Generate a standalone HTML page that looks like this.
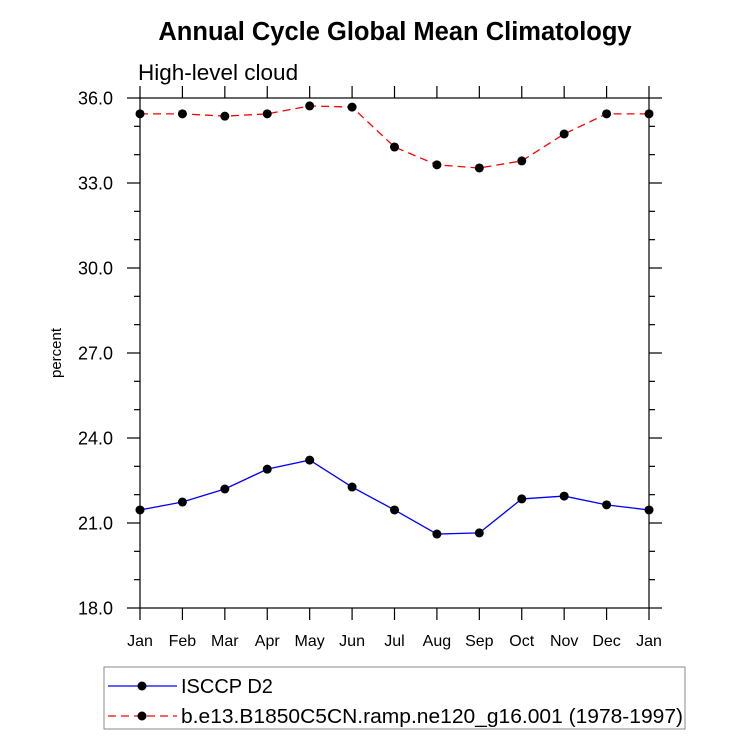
<!DOCTYPE html>
<html><head><meta charset="utf-8"><style>
body{margin:0;background:#fff;}
svg{display:block;font-family:"Liberation Sans",Arial,sans-serif;}
</style></head><body>
<svg id="chart" width="733" height="741">
<text x="395" y="40" text-anchor="middle" font-size="25.5" font-weight="bold">Annual Cycle Global Mean Climatology</text>
<text x="138" y="80" font-size="22.5">High-level cloud</text>
<text transform="translate(61,353) rotate(-90)" text-anchor="middle" font-size="15">percent</text>
<g id="axes"></g>
<g id="series"></g>
<rect x="104" y="667" width="581" height="62" fill="none" stroke="#888" stroke-width="1"/>
<g>
<line x1="108" y1="686" x2="177" y2="686" stroke="#00f" stroke-width="1.2"/>
<circle cx="142" cy="686" r="4.5" fill="#000"/>
<text x="181" y="693" font-size="20">ISCCP D2</text>
</g>
<g>
<line x1="108" y1="716" x2="177" y2="716" stroke="#f00" stroke-width="1.2" stroke-dasharray="8,5"/>
<circle cx="142" cy="716" r="4.5" fill="#000"/>
<text x="181" y="723" font-size="20" textLength="502" lengthAdjust="spacingAndGlyphs">b.e13.B1850C5CN.ramp.ne120_g16.001 (1978-1997)</text>
</g>
</svg>
<script>
const months = ["Jan","Feb","Mar","Apr","May","Jun","Jul","Aug","Sep","Oct","Nov","Dec","Jan"];
const isccpValues = [21.46,21.74,22.2,22.9,23.22,22.27,21.46,20.61,20.65,21.85,21.95,21.64,21.46];
const modelValues = [35.44,35.44,35.36,35.44,35.72,35.68,34.27,33.64,33.53,33.78,34.73,35.44,35.44];
const yTicks = [18,21,24,27,30,33,36];
const yTickLabels = ["18.0","21.0","24.0","27.0","30.0","33.0","36.0"];

const NS="http://www.w3.org/2000/svg";
const L=140,R=649,T=98,B=608,yMin=18,yMax=36;
const xs=i=>L+(R-L)*i/(months.length-1);
const ys=v=>B-(v-yMin)/(yMax-yMin)*(B-T);
function mk(tag,attrs,parent){const e=document.createElementNS(NS,tag);for(const k in attrs)e.setAttribute(k,attrs[k]);parent.appendChild(e);return e;}
const ax=document.getElementById('axes');
const frame=mk('rect',{x:L,y:T,width:R-L,height:B-T,fill:'none',stroke:'#000','stroke-width':1.2},ax);


months.forEach((m,i)=>{
  const x=xs(i);
  mk('line',{x1:x,y1:B,x2:x,y2:B+12,stroke:'#000','stroke-width':1.2},ax);
  mk('line',{x1:x,y1:T,x2:x,y2:T-12,stroke:'#000','stroke-width':1.2},ax);
  const t=mk('text',{x:x,y:B+38,'text-anchor':'middle','font-size':16},ax);
  t.textContent=m;
  
  
});
for(let v=yMin;v<=yMax;v+=1){
  const y=ys(v);const major=(v-yMin)%3===0;const len=major?13:6;
  mk('line',{x1:L,y1:y,x2:L-len,y2:y,stroke:'#000','stroke-width':1.2},ax);
  mk('line',{x1:R,y1:y,x2:R+len,y2:y,stroke:'#000','stroke-width':1.2},ax);
}
yTicks.forEach((v,i)=>{
  const t=mk('text',{x:L-27,y:ys(v)+6.5,'text-anchor':'end','font-size':18},ax);
  t.textContent=yTickLabels[i];
  
  
});
const sg=document.getElementById('series');
function drawSeries(vals,color,dash,name){
  const g=mk('g',{},sg);
  
  
  const pts=vals.map((v,i)=>xs(i)+','+ys(v)).join(' ');
  const attrs={points:pts,fill:'none',stroke:color,'stroke-width':1.3};
  if(dash)attrs['stroke-dasharray']=dash;
  mk('polyline',attrs,g);
  vals.forEach((v,i)=>{
    const c=mk('circle',{cx:xs(i),cy:ys(v),r:4.5,fill:'#000'},g);
    
    
  });
}
drawSeries(isccpValues,'#00f',null,'isccp-series');
drawSeries(modelValues,'#f00','8,5','model-series');
</script>
</body></html>
